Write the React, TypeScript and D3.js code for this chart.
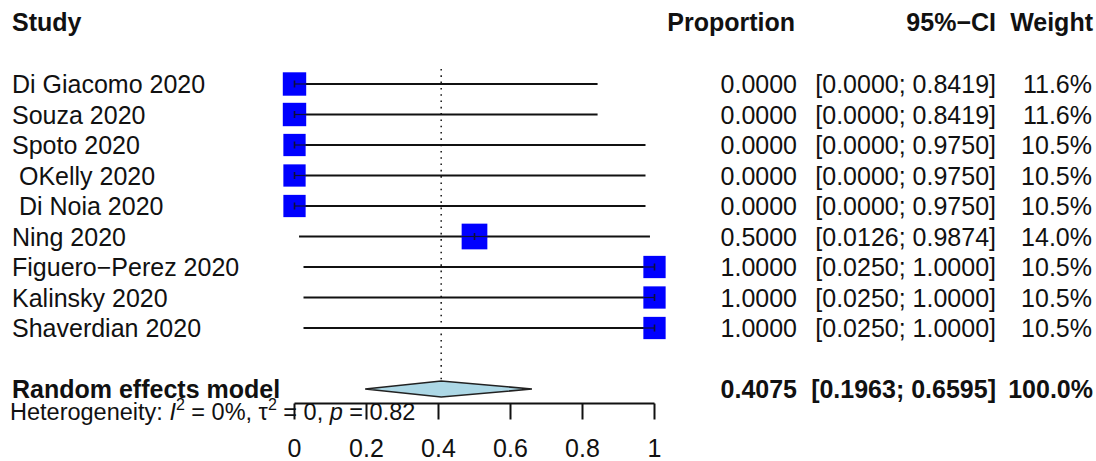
import React from "react";
import * as d3 from "d3";

// Study-level proportions with 95% confidence intervals and random-effects weights
const studies = [
  "Di Giacomo 2020",
  "Souza 2020",
  "Spoto 2020",
  " OKelly 2020",
  " Di Noia 2020",
  "Ning 2020",
  "Figuero\u2212Perez 2020",
  "Kalinsky 2020",
  "Shaverdian 2020",
];
const proportion = [0, 0, 0, 0, 0, 0.5, 1, 1, 1];
const ciLower = [0, 0, 0, 0, 0, 0.0126, 0.025, 0.025, 0.025];
const ciUpper = [0.8419, 0.8419, 0.975, 0.975, 0.975, 0.9874, 1, 1, 1];
const weight = [11.6, 11.6, 10.5, 10.5, 10.5, 14.0, 10.5, 10.5, 10.5];

// Pooled random-effects estimate
const pooled = { est: 0.4075, lower: 0.1963, upper: 0.6595, weight: 100.0 };
const hetI2 = "0%";
const hetTau2 = "0";
const hetP = "0.82";

const tickValues = [0, 0.2, 0.4, 0.6, 0.8, 1];
const tickLabels = ["0", "0.2", "0.4", "0.6", "0.8", "1"];

const W = 1096;
const H = 461;
const FONT = "'Liberation Sans', Arial, Helvetica, sans-serif";
const FS = 25;

const fmt4 = d3.format(".4f");
const fmtW = (w: number) => d3.format(".1f")(w) + "%";

export default function App() {
  const x = d3.scaleLinear().domain([0, 1]).range([294.5, 654.5]);
  const row0 = 84;
  const rowStep = 30.5;
  const y = (i: number) => row0 + rowStep * i;
  const boxSide = d3.scaleSqrt().domain([0, 11.6]).range([0, 23.4]);

  const modelY = y(10);
  const axisY = 403.5;
  const colProp = 797;
  const colCI = 996;
  const colW = 1093;
  const textDy = 9;

  return (
    <svg
      width={W}
      height={H}
      viewBox={`0 0 ${W} ${H}`}
      style={{ position: "absolute", left: 0, top: 0, background: "#fff" }}
      fontFamily={FONT}
      fontSize={FS}
    >
      <rect x={0} y={0} width={W} height={H} fill="#fff" />

      {/* Column headers */}
      <g fontWeight="bold" fill="#111">
        <text x={12} y={31}>Study</text>
        <text x={colProp - 2} y={31} textAnchor="end">Proportion</text>
        <text x={colCI} y={31} textAnchor="end">95%{"\u2212"}CI</text>
        <text x={colW} y={31} textAnchor="end">Weight</text>
      </g>

      {/* Reference line at the pooled estimate */}
      <line
        x1={x(pooled.est)}
        x2={x(pooled.est)}
        y1={69}
        y2={modelY - 8}
        stroke="#222"
        strokeWidth={1.6}
        strokeDasharray="1.6 4.7"
      />

      {/* Study rows */}
      {studies.map((s, i) => {
        const cy = y(i);
        const side = boxSide(weight[i]);
        const cx = x(proportion[i]);
        const bl = Math.max(x(ciLower[i]), cx - side / 2);
        const br = Math.min(x(ciUpper[i]), cx + side / 2);
        return (
          <g key={i}>
            <text x={12} y={cy + textDy} fill="#111" style={{ whiteSpace: "pre" }}>
              {s}
            </text>
            <line x1={x(ciLower[i])} x2={x(ciUpper[i])} y1={cy} y2={cy} stroke="#111" strokeWidth={2} />
            <rect x={cx - side / 2} y={cy - side / 2} width={side} height={side} fill="#0000ff" />
            <line x1={bl} x2={br} y1={cy} y2={cy} stroke="#10103a" strokeWidth={1.2} />
            <line x1={cx} x2={cx} y1={cy - 3.5} y2={cy + 3.5} stroke="#10103a" strokeWidth={1.6} />
            <text x={colProp} y={cy + textDy} textAnchor="end" fill="#111">
              {fmt4(proportion[i])}
            </text>
            <text x={colCI} y={cy + textDy} textAnchor="end" fill="#111">
              {`[${fmt4(ciLower[i])}; ${fmt4(ciUpper[i])}]`}
            </text>
            <text x={colW - 1} y={cy + textDy} textAnchor="end" fill="#111">
              {fmtW(weight[i])}
            </text>
          </g>
        );
      })}

      {/* Pooled estimate */}
      <text x={12} y={modelY + textDy} fontWeight="bold" fill="#111">
        Random effects model
      </text>
      <polygon
        points={[
          [x(pooled.lower), modelY],
          [x(pooled.est), modelY - 8],
          [x(pooled.upper), modelY],
          [x(pooled.est), modelY + 8],
        ]
          .map((p) => p.join(","))
          .join(" ")}
        fill="#add8e6"
        stroke="#222"
        strokeWidth={1.6}
      />
      <g fontWeight="bold" fill="#111">
        <text x={colProp} y={modelY + textDy} textAnchor="end">
          {fmt4(pooled.est)}
        </text>
        <text x={colCI} y={modelY + textDy} textAnchor="end">
          {`[${fmt4(pooled.lower)}; ${fmt4(pooled.upper)}]`}
        </text>
        <text x={colW} y={modelY + textDy} textAnchor="end">
          {fmtW(pooled.weight)}
        </text>
      </g>

      {/* Axis */}
      <g stroke="#111" strokeWidth={2}>
        <line x1={x(0)} x2={x(1)} y1={axisY} y2={axisY} />
        {tickValues.map((t) => (
          <line key={t} x1={x(t)} x2={x(t)} y1={axisY} y2={axisY + 16} />
        ))}
      </g>
      <g fill="#111" textAnchor="middle">
        {tickValues.map((t, i) => (
          <text key={t} x={x(t)} y={457}>
            {tickLabels[i]}
          </text>
        ))}
      </g>

      {/* Heterogeneity statistics */}
      <text x={10} y={419.5} fontSize={23.5} fill="#111" style={{ whiteSpace: "pre" }}>
        <tspan>Heterogeneity: </tspan>
        <tspan fontStyle="italic">I</tspan>
        <tspan fontSize={16} dy={-10}>2</tspan>
        <tspan dy={10}>{` = ${hetI2}, \u03c4`}</tspan>
        <tspan fontSize={16} dy={-10}>2</tspan>
        <tspan dy={10}>{` = ${hetTau2}, `}</tspan>
        <tspan fontStyle="italic">p</tspan>
        <tspan>{` = ${hetP}`}</tspan>
      </text>
    </svg>
  );
}
